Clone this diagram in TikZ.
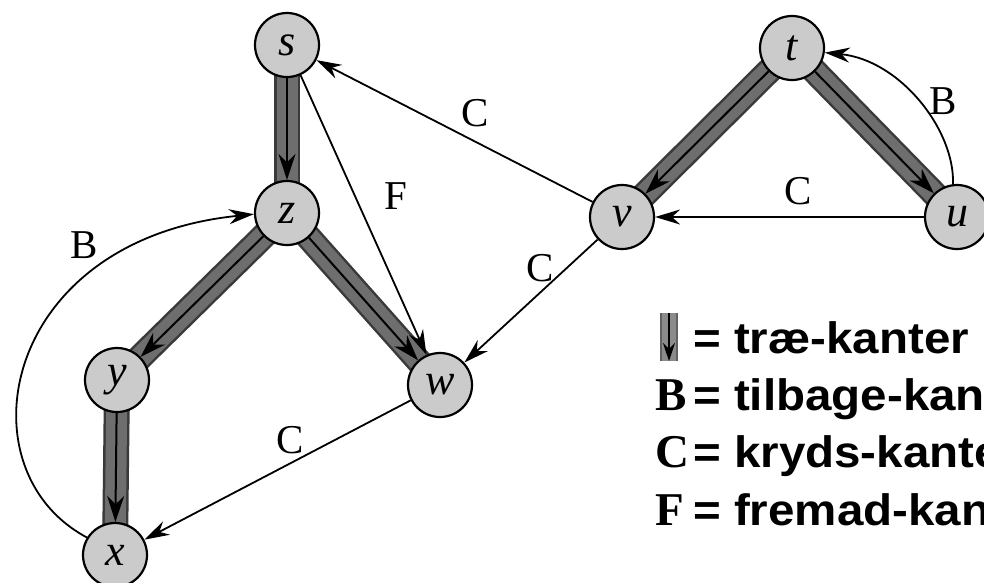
\documentclass[tikz,border=0pt]{standalone}
\usepackage{fontspec}
\setmainfont{Liberation Serif}
\newfontfamily\legsans[FakeStretch=1.08]{Liberation Sans}
\usetikzlibrary{arrows.meta}
\pgfdeclarelayer{bg}
\pgfsetlayers{bg,main}
\definecolor{nodegray}{HTML}{CBCBCB}
\definecolor{bandgray}{HTML}{6E6E6E}
\definecolor{banddark}{HTML}{3A3A3A}
\begin{document}
\begin{tikzpicture}[x=1pt,y=-1pt,
  vert/.style={circle,draw=black,line width=2.2pt,fill=nodegray,minimum size=64pt,inner sep=0pt,
    font=\fontsize{44}{44}\selectfont\itshape},
  treeedge/.style={draw=bandgray,line width=21pt,shorten <=-5pt,shorten >=-5pt,
    preaction={draw=banddark,line width=26pt,shorten <=-5pt,shorten >=-5pt},
    postaction={draw=black,line width=2pt,shorten <=0pt,shorten >=0pt,-{Stealth[length=26pt,width=17pt]}}},
  legtree/.style={draw=bandgray!80,line width=14pt,
    preaction={draw=banddark!80,line width=18pt},
    postaction={draw=black,line width=1.5pt,-{Stealth[length=18pt,width=12pt]}}},
  thinarrow/.style={draw=black,line width=1.8pt,-{Stealth[length=25pt,width=15pt]}},
  elabel/.style={font=\fontsize{41}{41}\selectfont,inner sep=0pt},
  legsym/.style={font=\fontsize{47}{47}\selectfont\bfseries,inner sep=0pt,anchor=base west},
  legtext/.style={font=\legsans\fontsize{44}{44}\selectfont\bfseries,inner sep=0pt,anchor=base west}]
\useasboundingbox (0,0) rectangle (984,582);

\node[vert] (s) at (287,45) {s};
\node[vert] (z) at (287,213) {z};
\node[vert] (y) at (117,380) {y};
\node[vert] (x) at (115,555) {x};
\node[vert] (w) at (440,385) {w};
\node[vert] (v) at (622,217) {v};
\node[vert] (t) at (792,48) {t};
\node[vert] (u) at (957,217) {u};

\begin{pgfonlayer}{bg}
\fill[white] (0,0) rectangle (984,582);
\draw[treeedge] (s) -- (z);
\draw[treeedge] (z) -- (y);
\draw[treeedge] (z) -- (w);
\draw[treeedge] (y) -- (x);
\draw[treeedge] (t) -- (v);
\draw[treeedge] (t) -- (u);
\end{pgfonlayer}

\draw[thinarrow] (v) -- (s);
\draw[thinarrow] (s) -- (w);
\draw[thinarrow] (v) -- (w);
\draw[thinarrow] (u) -- (v);
\draw[thinarrow] (w) -- (x);
\draw[thinarrow] (u.97) .. controls (955,130) and (900,60) .. (t.-8);
\draw[thinarrow] (x.148) .. controls (-40,470) and (0,240) .. (z.182);

\node[elabel] (lc1) at (475,113) {C};
\node[elabel] (lf) at (396,196) {F};
\node[elabel] (lc2) at (540,268) {C};
\node[elabel] (lc3) at (798,191) {C};
\node[elabel] (lb1) at (943,101) {B};
\node[elabel] (lb2) at (84,245) {B};
\node[elabel] (lc4) at (290,440) {C};

\coordinate (i1) at (669,313);
\coordinate (i2) at (669,361);
\draw[legtree] (i1) -- (i2);
\node[legtext] (t1) at (693,353) {= træ-kanter};
\node[legsym] (sb) at (655,410) {B};
\node[legtext] (t2) at (693,410) {= tilbage-kanter};
\node[legsym] (sc) at (655,467) {C};
\node[legtext] (t3) at (693,467) {= kryds-kanter};
\node[legsym] (sf) at (655,525) {F};
\node[legtext] (t4) at (693,525) {= fremad-kanter};
\end{tikzpicture}
\end{document}
